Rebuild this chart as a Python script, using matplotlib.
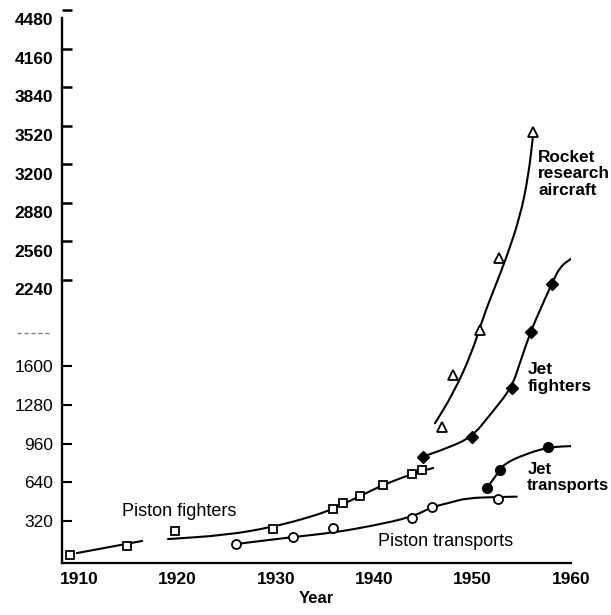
import numpy as np
import matplotlib
matplotlib.use('Agg')
import matplotlib.pyplot as plt
import matplotlib.transforms as mtransforms
from matplotlib.path import Path
from matplotlib.patches import PathPatch

plt.rcParams['font.family'] = ['Liberation Sans', 'DejaVu Sans']

# 데이터
# 피스톤 전투기 (빈 사각형)
pf_year = [1909.1, 1914.85, 1919.76, 1929.75, 1935.78, 1936.86, 1938.59, 1940.86, 1943.81, 1944.89]
pf_val = [35, 110, 237, 248, 414, 464, 527, 616, 705, 740]
pf_line1_year = [1909.8, 1916.4]
pf_line1_val = [51, 151]
pf_line2_year = [1919.04, 1925.0, 1929.7, 1933.5, 1935.8, 1938.56, 1940.9, 1943.8, 1946.0]
pf_line2_val = [167, 200, 267, 350, 416, 524, 616, 707, 757]

# 피스톤 수송기 (빈 원)
pt_year = [1925.96, 1931.72, 1935.84, 1943.8, 1945.84, 1952.55]
pt_val = [126, 184, 256, 344, 431, 502]
pt_line_year = [1925.96, 1931.75, 1935.8, 1939.78, 1943.84, 1945.87, 1947.7, 1949.43, 1952.58, 1954.48]
pt_line_val = [126, 184, 220, 276, 350, 433, 469, 508, 516, 519]

# 제트 전투기 (채운 마름모)
jf_year = [1944.93, 1949.91, 1953.97, 1955.9, 1958.04]
jf_val = [851, 1012, 1423, 1888, 2284]
jf_line_year = [1944.93, 1947.36, 1949.91, 1951.77, 1953.97, 1954.8, 1955.9, 1956.85, 1958.04, 1958.88, 1960.07]
jf_line_val = [851, 920, 1012, 1197, 1423, 1628, 1888, 2068, 2284, 2427, 2497]

# 로켓 연구기 (빈 삼각형)
rk_year = [1946.86, 1947.98, 1950.75, 1952.65, 1956.17]
rk_val = [1100, 1529, 1902, 2497, 3548]
rk_line_year = [1946.18, 1948.04, 1949.91, 1951.09, 1952.28, 1953.47, 1954.82, 1955.66, 1956.17]
rk_line_val = [1128, 1377, 1709, 2012, 2261, 2510, 2842, 3174, 3534]

# 제트 수송기 (채운 원)
jt_year = [1951.43, 1952.78, 1957.63]
jt_val = [588, 740, 929]
jt_line_year = [1951.43, 1952.78, 1953.32, 1955.15, 1957.63, 1960.07]
jt_line_val = [588, 740, 796, 865, 929, 939]

lower_ticks = [320, 640, 960, 1280, 1600]
upper_ticks = [2240, 2560, 2880, 3200, 3520, 3840, 4160, 4480]
x_ticks = [1910, 1920, 1930, 1940, 1950, 1960]


def smooth_curve(ax, xs, ys, lw=1.5):
    # 읽은 점들을 2차 베지어 곡선으로 부드럽게 연결 (점 사이 중점을 끝점으로 사용)
    p = np.column_stack([xs, ys]).astype(float)
    if len(p) < 3:
        ax.plot(xs, ys, color='black', lw=lw)
        return
    verts = [p[0], (p[0] + p[1]) / 2]
    codes = [Path.MOVETO, Path.LINETO]
    for i in range(1, len(p) - 1):
        verts += [p[i], (p[i] + p[i + 1]) / 2]
        codes += [Path.CURVE3, Path.CURVE3]
    verts.append(p[-1])
    codes.append(Path.LINETO)
    ax.add_patch(PathPatch(Path(verts, codes), fill=False, edgecolor='black', lw=lw,
                           capstyle='round', joinstyle='round'))


fig = plt.figure(figsize=(6.11, 6.15), dpi=100)
ax = fig.add_axes([61.7 / 611, (615 - 563.3) / 615, (571 - 61.7) / 611, (563.3 - 9.7) / 615])

smooth_curve(ax, pf_line1_year, pf_line1_val)
smooth_curve(ax, pf_line2_year, pf_line2_val)
smooth_curve(ax, pt_line_year, pt_line_val)
smooth_curve(ax, jf_line_year, jf_line_val)
smooth_curve(ax, rk_line_year, rk_line_val)
smooth_curve(ax, jt_line_year, jt_line_val)

ax.plot(pf_year, pf_val, ls='none', marker='s', ms=6, mfc='white', mec='black', mew=1.3, zorder=3)
ax.plot(pt_year, pt_val, ls='none', marker='o', ms=6.5, mfc='white', mec='black', mew=1.3, zorder=3)
ax.plot(jf_year, jf_val, ls='none', marker='D', ms=6.5, mfc='black', mec='black', zorder=3)
ax.plot(rk_year, rk_val, ls='none', marker='^', ms=7, mfc='white', mec='black', mew=1.3, zorder=3)
ax.plot(jt_year, jt_val, ls='none', marker='o', ms=7, mfc='black', mec='black', zorder=3)

ax.set_xlim(1908.24, 1960.0)
ax.set_ylim(-34, 4560)

for s in ['top', 'right']:
    ax.spines[s].set_visible(False)
ax.spines['left'].set_linewidth(1.7)
ax.spines['bottom'].set_linewidth(1.6)
ax.spines['left'].set_bounds(-34, 4491)

# y축 눈금: 아래쪽은 눈금선 + 라벨, 위쪽은 라벨만 (눈금선은 약간 위로 어긋나 있음)
ax.set_yticks(lower_ticks + upper_ticks, [str(v) for v in lower_ticks + upper_ticks])
ax.set_yticks([v + 78 for v in upper_ticks], minor=True)
ax.tick_params(axis='y', which='major', direction='in', length=7, width=1.5, pad=6, labelsize=12.5)
ax.tick_params(axis='y', which='minor', direction='in', length=7.5, width=1.8, labelleft=False)
for t in ax.yaxis.get_major_ticks():
    if t.get_loc() > 2000:
        t.tick1line.set_visible(False)
for lbl in ax.get_yticklabels():
    if int(lbl.get_text()) > 2000:
        lbl.set_fontweight('bold')

ax.set_xticks(x_ticks)
ax.tick_params(axis='x', length=0, pad=6, labelsize=12.5)
for lbl in ax.get_xticklabels():
    lbl.set_fontweight('bold')
ax.set_xlabel('Year', fontsize=12, fontweight='bold', labelpad=3)

# 잘린 1920 라벨 흔적
trans = mtransforms.blended_transform_factory(ax.transAxes, ax.transData)
ax.plot([-0.088, -0.023], [1875, 1875], color='gray', lw=1, ls=(0, (3, 2)), transform=trans, clip_on=False)

ax.text(1914.34, 394, 'Piston fighters', fontsize=13, va='center', ha='left')
ax.text(1940.39, 145, 'Piston transports', fontsize=13, va='center', ha='left')
ax.text(1955.6, 1506, 'Jet\nfighters', fontsize=12.5, fontweight='bold', va='center', ha='left', linespacing=1.15)
ax.text(1955.55, 678, 'Jet\ntransports', fontsize=12, fontweight='bold', va='center', ha='left', linespacing=1.15)
ax.text(1956.65, 3198, 'Rocket\nresearch\naircraft', fontsize=12.4, fontweight='bold', va='center', ha='left', linespacing=1.15)

fig.savefig('out.png', dpi=100)
